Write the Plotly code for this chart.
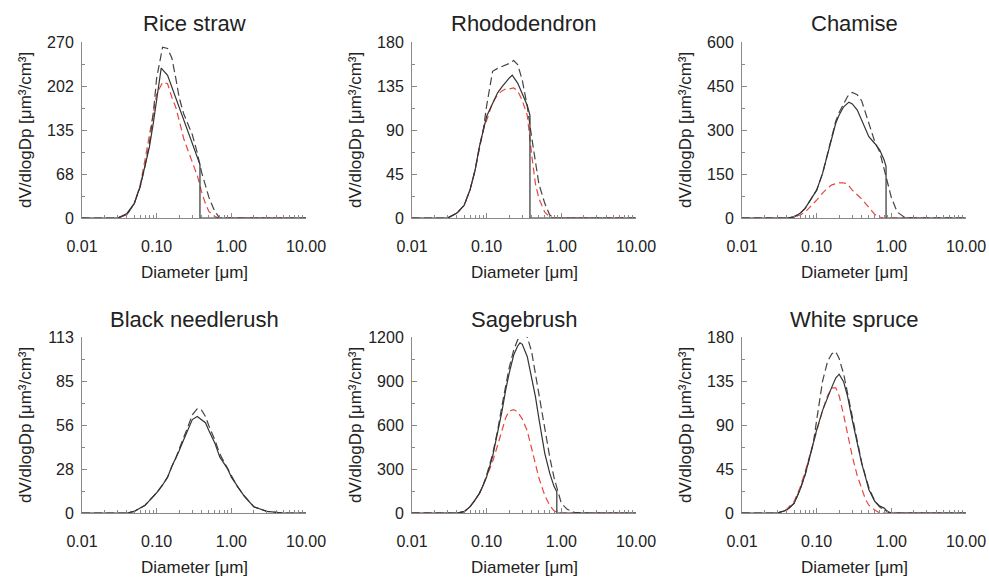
import plotly.graph_objects as go

# ---------------- data ----------------
titles = ["Rice straw", "Rhododendron", "Chamise",
          "Black needlerush", "Sagebrush", "White spruce"]
y_max = [270, 180, 600, 113, 1200, 180]
y_ticktext = [["0", "68", "135", "202", "270"],
              ["0", "45", "90", "135", "180"],
              ["0", "150", "300", "450", "600"],
              ["0", "28", "56", "85", "113"],
              ["0", "300", "600", "900", "1200"],
              ["0", "45", "90", "135", "180"]]
x_tickvals = [0.01, 0.1, 1, 10]
x_ticktext = ["0.01", "0.10", "1.00", "10.00"]

# common diameter grid for dashed curves [um]
diam = [0.01, 0.02, 0.03, 0.04, 0.05, 0.06, 0.07, 0.08, 0.09, 0.10,
        0.12, 0.14, 0.16, 0.18, 0.20, 0.23, 0.26, 0.30, 0.35, 0.40, 0.45, 0.50,
        0.60, 0.70, 0.80, 0.90, 1.00, 1.20, 1.50, 2.00, 3.00, 5.00, 10.0]

# Rice straw
rice_solid_d = [0.01, 0.02, 0.03, 0.04, 0.05, 0.06, 0.07, 0.08, 0.09, 0.10, 0.115,
                0.14, 0.16, 0.18, 0.20, 0.23, 0.26, 0.30, 0.35, 0.38, 0.38, 0.50, 1.0, 10.0]
rice_solid = [0, 0, 0, 7, 22, 48, 79, 109, 145, 181, 230,
              219, 201, 186, 171, 150, 135, 117, 94, 82, 0, 0, 0, 0]
rice_dash = [0, 0, 0, 5, 22, 48, 80, 115, 160, 215,
             262, 260, 245, 215, 185, 160, 145, 128, 100, 70, 50, 32,
             10, 0, 0, 0, 0, 0, 0, 0, 0, 0, 0]
rice_red = [0, -3, 0, 5, 22, 50, 90, 130, 165, 190,
            208, 206, 185, 170, 150, 122, 105, 85, 65, 40, 22, 10,
            2, 0, 0, 0, 0, 0, 0, 0, 0, 0, 0]

# Rhododendron
rhodo_solid_d = [0.01, 0.03, 0.04, 0.05, 0.06, 0.07, 0.08, 0.09, 0.10, 0.12, 0.14,
                 0.16, 0.18, 0.20, 0.22, 0.26, 0.30, 0.35, 0.38, 0.38, 1.0, 10.0]
rhodo_solid = [0, 0, 5, 13, 29, 49, 73, 90, 104, 117, 128,
               134, 139, 143, 146, 138, 127, 115, 105, 0, 0, 0]
rhodo_dash = [0, 0, 0, 5, 13, 29, 49, 73, 90, 115,
              150, 153, 155, 157, 158, 161, 157, 141, 114, 83, 59, 35,
              15, 3, 0, 0, 0, 0, 0, 0, 0, 0, 0]
rhodo_red = [0, -2, 0, 5, 13, 29, 49, 73, 90, 100,
             118, 126, 130, 132, 132, 133, 130, 120, 105, 65, 35, 20,
             6, 1, 0, 0, 0, 0, 0, 0, 0, 0, 0]

# Chamise
cham_solid_d = [0.01, 0.03, 0.04, 0.05, 0.06, 0.07, 0.08, 0.09, 0.10, 0.12, 0.14,
                0.16, 0.18, 0.20, 0.23, 0.27, 0.30, 0.35, 0.40, 0.45, 0.50, 0.60,
                0.70, 0.80, 0.85, 0.85, 1.0, 10.0]
cham_solid = [0, 0, 0, 4, 16, 33, 56, 73, 95, 152, 220,
              277, 323, 351, 379, 395, 389, 368, 334, 300, 277, 254,
              232, 198, 175, 0, 0, 0]
cham_dash = [0, 0, 0, 0, 4, 16, 33, 56, 73, 95,
             152, 220, 280, 330, 360, 390, 415, 428, 420, 400, 360, 320,
             260, 225, 170, 115, 70, 20, 3, 0, 0, 0, 0]
cham_red = [0, 0, -2, 0, 3, 10, 20, 35, 50, 61,
            85, 102, 113, 118, 120, 120, 115, 95, 80, 65, 50, 35,
            12, 3, 0, 0, 0, 0, 0, 0, 0, 0, 0]

# Black needlerush
needle_solid = [0, 0, 0, 0, 1, 3, 5, 8, 10.5, 13,
                18, 23, 30, 35, 40, 47, 53, 60, 62, 60, 58, 53,
                45, 36, 32, 28, 23, 17, 10.5, 4, 1, 0, 0]
needle_dash = [0, 0, 0, 0, 1, 3, 5, 8, 10.5, 13,
               18, 23, 30, 35, 41, 48, 55, 63, 67, 66, 62, 56,
               47, 38, 33, 28, 24, 17, 11, 4, 1, 0, 0]

# Sagebrush
sage_solid_d = [0.01, 0.04, 0.05, 0.06, 0.07, 0.08, 0.09, 0.10, 0.12, 0.14, 0.16,
                0.18, 0.20, 0.23, 0.26, 0.28, 0.30, 0.35, 0.40, 0.45, 0.50, 0.60,
                0.70, 0.80, 0.87, 0.87, 1.0, 10.0]
sage_solid = [0, 0, 9, 43, 89, 134, 191, 248, 384, 543, 691,
              839, 952, 1077, 1139, 1160, 1150, 1066, 930, 793, 645, 407,
              270, 180, 145, 0, 0, 0]
sage_dash = [0, 0, 0, 0, 9, 43, 89, 134, 191, 260,
             400, 560, 730, 880, 990, 1110, 1180, 1215, 1200, 1100, 950, 800,
             560, 380, 240, 140, 66, 25, 5, 0, 0, 0, 0]
sage_red = [0, 0, -5, 0, 9, 43, 89, 134, 190, 245,
            350, 460, 570, 650, 695, 705, 690, 640, 560, 440, 330, 240,
            120, 50, 15, 3, 0, 0, 0, 0, 0, 0, 0]

# White spruce
spruce_solid = [0, 0, 0, 3, 10, 24, 39, 56, 71, 85,
                105, 119, 129, 138, 142, 134, 119, 95, 71, 51, 37, 24,
                12, 7, 5, 1, 0, 0, 0, 0, 0, 0, 0]
spruce_dash = [0, 0, 0, 3, 10, 24, 39, 56, 71, 95,
               135, 155, 163, 165, 158, 142, 122, 98, 72, 52, 38, 26,
               12, 6, 3, 1, 0, 0, 0, 0, 0, 0, 0]
spruce_red = [0, -1, 0, 4, 12, 26, 42, 58, 73, 86,
              105, 120, 128, 128, 120, 100, 80, 58, 38, 24, 14, 8,
              3, 0, 0, 0, 0, 0, 0, 0, 0, 0, 0]

panels = [
    (rice_solid_d, rice_solid, rice_dash, rice_red),
    (rhodo_solid_d, rhodo_solid, rhodo_dash, rhodo_red),
    (cham_solid_d, cham_solid, cham_dash, cham_red),
    (diam, needle_solid, needle_dash, None),
    (sage_solid_d, sage_solid, sage_dash, sage_red),
    (diam, spruce_solid, spruce_dash, spruce_red),
]

# ---------------- layout ----------------
W, H = 989, 577
col_left = [82, 412, 742]
ax_w = 224
row_top = [42, 337]
ax_h = 176

FONT = "Liberation Sans, Arial, Helvetica, sans-serif"
TXT = "#222222"
AXC = "#8a8a8a"
BLACK = "#333333"
RED = "#e8473f"

x_minor = [m * 10.0 ** e for e in (-2, -1, 0) for m in range(2, 10)]

fig = go.Figure()
annotations = []
for i, (sd, sv, dv, rv) in enumerate(panels):
    r, c = divmod(i, 3)
    n = i + 1
    xa = "x" if n == 1 else f"x{n}"
    ya = "y" if n == 1 else f"y{n}"
    if rv is not None:
        fig.add_trace(go.Scatter(x=diam, y=rv, mode="lines", xaxis=xa, yaxis=ya,
                                 line=dict(color=RED, width=1.2, dash="7px,4px"),
                                 showlegend=False, hoverinfo="skip"))
    fig.add_trace(go.Scatter(x=diam, y=dv, mode="lines", xaxis=xa, yaxis=ya,
                             line=dict(color="#444444", width=1.2, dash="8px,4px"),
                             showlegend=False, hoverinfo="skip"))
    fig.add_trace(go.Scatter(x=sd, y=sv, mode="lines", xaxis=xa, yaxis=ya,
                             line=dict(color=BLACK, width=1.2),
                             showlegend=False, hoverinfo="skip"))

    x0, y0 = col_left[c], row_top[r]
    xd = [x0 / W, (x0 + ax_w) / W]
    yd = [1 - (y0 + ax_h) / H, 1 - y0 / H]
    m = y_max[i]
    yticks = [m * k / 4 for k in range(5)]
    yminor = [m * (2 * k + 1) / 8 for k in range(4)]
    xkey = "xaxis" if n == 1 else f"xaxis{n}"
    ykey = "yaxis" if n == 1 else f"yaxis{n}"
    fig.update_layout(**{
        xkey: dict(domain=xd, anchor=ya, type="log", range=[-2, 1],
                   automargin=False,
                   tickmode="array", tickvals=x_tickvals, ticktext=x_ticktext,
                   ticks="inside", ticklen=5, tickcolor=AXC,
                   showline=True, linecolor=AXC, linewidth=1,
                   showgrid=False, zeroline=False,
                   ticklabelstandoff=14,
                   tickfont=dict(family=FONT, size=16, color=TXT),
                   minor=dict(tickmode="array", tickvals=x_minor, ticks="inside",
                              ticklen=3, tickcolor=AXC, showgrid=False)),
        ykey: dict(domain=yd, anchor=xa, range=[0, m],
                   automargin=False,
                   tickmode="array", tickvals=yticks, ticktext=y_ticktext[i],
                   ticks="inside", ticklen=5, tickcolor=AXC,
                   showline=True, linecolor=AXC, linewidth=1,
                   showgrid=False, zeroline=False,
                   ticklabelstandoff=4,
                   tickfont=dict(family=FONT, size=16, color=TXT),
                   minor=dict(tickmode="array", tickvals=yminor, ticks="inside",
                              ticklen=3, tickcolor=AXC, showgrid=False)),
    })
    cx = (x0 + ax_w / 2) / W
    annotations.append(dict(text=titles[i], x=cx, y=1 - (y0 - 18) / H,
                            xref="paper", yref="paper", showarrow=False,
                            xanchor="center", yanchor="middle",
                            font=dict(family=FONT, size=22, color=TXT)))
    annotations.append(dict(text="Diameter [μm]", x=cx, y=1 - (y0 + ax_h + 54) / H,
                            xref="paper", yref="paper", showarrow=False,
                            xanchor="center", yanchor="middle",
                            font=dict(family=FONT, size=17, color=TXT)))
    annotations.append(dict(text="dV/dlogDp [μm³/cm³]", x=(x0 - 57) / W,
                            y=1 - (y0 + ax_h / 2) / H,
                            xref="paper", yref="paper", showarrow=False, textangle=-90,
                            xanchor="center", yanchor="middle",
                            font=dict(family=FONT, size=17, color=TXT)))

fig.update_layout(width=W, height=H, margin=dict(l=0, r=0, t=0, b=0),
                  paper_bgcolor="white", plot_bgcolor="white",
                  annotations=annotations, showlegend=False)

fig.write_html("out.html",
               config={"displayModeBar": False},
               post_script="document.body.style.margin='0';document.body.style.overflow='hidden';")
